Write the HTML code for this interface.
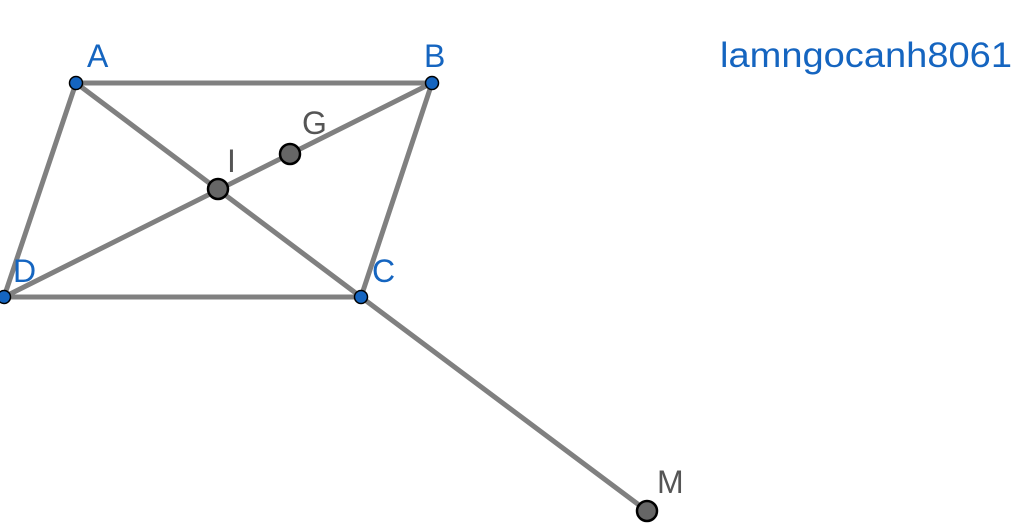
<!DOCTYPE html>
<html><head><style>body{margin:0;background:#fff;}svg{display:block}</style></head><body>
<svg width="1024" height="524" xmlns="http://www.w3.org/2000/svg" font-family="Liberation Sans, sans-serif">
<g stroke="#808080" stroke-width="5" fill="none" stroke-linecap="round">
<line x1="76" y1="83" x2="432" y2="83"/>
<line x1="432" y1="83" x2="361" y2="297"/>
<line x1="361" y1="297" x2="4" y2="297"/>
<line x1="4" y1="297" x2="76" y2="83"/>
<line x1="76" y1="83" x2="361" y2="297"/>
<line x1="4" y1="297" x2="432" y2="83"/>
<line x1="361" y1="297" x2="647" y2="511"/>
</g>
<g fill="#666" stroke="#000" stroke-width="2.5">
<circle cx="218" cy="189" r="10"/>
<circle cx="290" cy="154" r="10"/>
<circle cx="647" cy="511" r="10"/>
</g>
<g fill="#1565c0" stroke="#000" stroke-width="1.5">
<circle cx="76" cy="83" r="6.5"/>
<circle cx="432" cy="83" r="6.5"/>
<circle cx="361" cy="297" r="6.5"/>
<circle cx="4" cy="297" r="6.5"/>
</g>
<g font-size="32" fill="#1565c0">
<text x="87" y="67">A</text>
<text x="424" y="67">B</text>
<text x="372" y="282">C</text>
<text x="13" y="282">D</text>
<text x="720" y="67" font-size="35" textLength="292" lengthAdjust="spacingAndGlyphs">lamngocanh8061</text>
</g>
<g font-size="32" fill="#555">
<text x="227" y="172">I</text>
<text x="302" y="134">G</text>
<text x="657" y="493">M</text>
</g>
</svg>
</body></html>
